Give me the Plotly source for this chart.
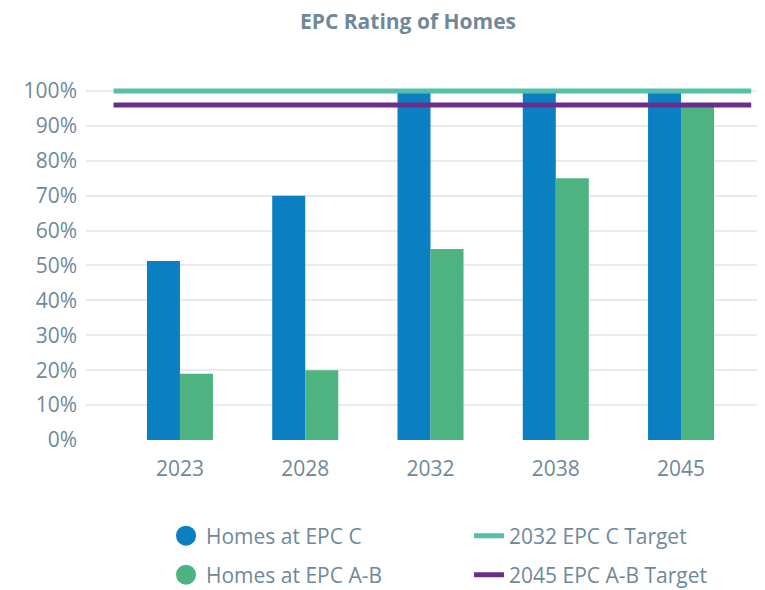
import plotly.graph_objects as go

years = ["2023", "2028", "2032", "2038", "2045"]
epc_c = [51.3, 70, 100, 100, 100]
epc_ab = [19, 20, 54.7, 75, 95.4]
target_c = 100
target_ab = 96
target_span = [-0.53, 4.56]
y_ticks = [0, 10, 20, 30, 40, 50, 60, 70, 80, 90, 100]
y_labels = ["0%", "10%", "20%", "30%", "40%", "50%", "60%", "70%", "80%", "90%", "100%"]

BLUE = "#0a7fc1"
GREEN = "#4db380"
TEAL = "#56bfac"
PURPLE = "#6a2e8c"
TXT = "#6f899a"
FONT = "Open Sans"

# the page body has an 8px margin, so the figure is sized to fit the window
OFF = 8
W, H = 765 - OFF, 590 - OFF
PL, PT, PB = 86 - OFF, 77 - OFF, 440 - OFF  # plot area in figure pixels
PW, PH = W - PL, PB - PT

xpos = list(range(len(years)))

fig = go.Figure()
fig.add_trace(go.Bar(x=xpos, y=epc_c, marker=dict(color=BLUE, line=dict(width=0)),
                     name="Homes at EPC C", showlegend=False))
fig.add_trace(go.Bar(x=xpos, y=epc_ab, marker=dict(color=GREEN, line=dict(width=0)),
                     name="Homes at EPC A-B", showlegend=False))
fig.add_trace(go.Scatter(x=target_span, y=[target_c] * 2, mode="lines",
                         line=dict(color=TEAL, width=5), showlegend=False,
                         hoverinfo="skip"))
fig.add_trace(go.Scatter(x=target_span, y=[target_ab] * 2, mode="lines",
                         line=dict(color=PURPLE, width=5), showlegend=False,
                         hoverinfo="skip"))

# legend entries (row 1 -> legend, row 2 -> legend2)
fig.add_trace(go.Scatter(x=[None], y=[None], mode="markers", name="Homes at EPC C",
                         marker=dict(color=BLUE, size=16, symbol="circle",
                                     line=dict(color=BLUE, width=4)),
                         legend="legend"))
fig.add_trace(go.Scatter(x=[None], y=[None], mode="lines", name="2032 EPC C Target",
                         line=dict(color=TEAL, width=5), legend="legend"))
fig.add_trace(go.Scatter(x=[None], y=[None], mode="markers", name="Homes at EPC A-B",
                         marker=dict(color=GREEN, size=16, symbol="circle",
                                     line=dict(color=GREEN, width=4)),
                         legend="legend2"))
fig.add_trace(go.Scatter(x=[None], y=[None], mode="lines", name="2045 EPC A-B Target",
                         line=dict(color=PURPLE, width=5), legend="legend2"))

leg_common = dict(orientation="h", xanchor="left", yanchor="middle",
                  font=dict(family=FONT, size=21, color=TXT),
                  entrywidth=258, entrywidthmode="pixels",
                  bgcolor="rgba(0,0,0,0)", traceorder="normal")

fig.update_layout(
    width=W, height=H,
    margin=dict(l=PL, r=0, t=PT, b=H - PB, autoexpand=False),
    paper_bgcolor="white", plot_bgcolor="white",
    font=dict(family=FONT, color=TXT),
    title=dict(text="<b>EPC Rating of Homes</b>", x=(408 - OFF) / W, xanchor="center",
               y=1 - (22 - OFF) / H, yanchor="middle", xref="container", yref="container",
               font=dict(family=FONT, size=21, color=TXT)),
    barmode="group", bargap=0.473, bargroupgap=0,
    xaxis=dict(range=[-0.75, 4.67], tickvals=xpos, ticktext=years,
               showgrid=False, zeroline=False, showline=False,
               tickfont=dict(family=FONT, size=21, color=TXT),
               ticklabelstandoff=14),
    yaxis=dict(range=[0, 104], tickvals=y_ticks, ticktext=y_labels,
               showgrid=True, gridcolor="#e6ebf1", gridwidth=1.5,
               zeroline=False, showline=False,
               tickfont=dict(family=FONT, size=21, color=TXT),
               ticklabelstandoff=8),
    legend=dict(x=(166 - 86) / PW, y=(PB - (536 - OFF)) / PH, **leg_common),
    legend2=dict(x=(166 - 86) / PW, y=(PB - (575 - OFF)) / PH, **leg_common),
)

fig.write_html("out.html")
